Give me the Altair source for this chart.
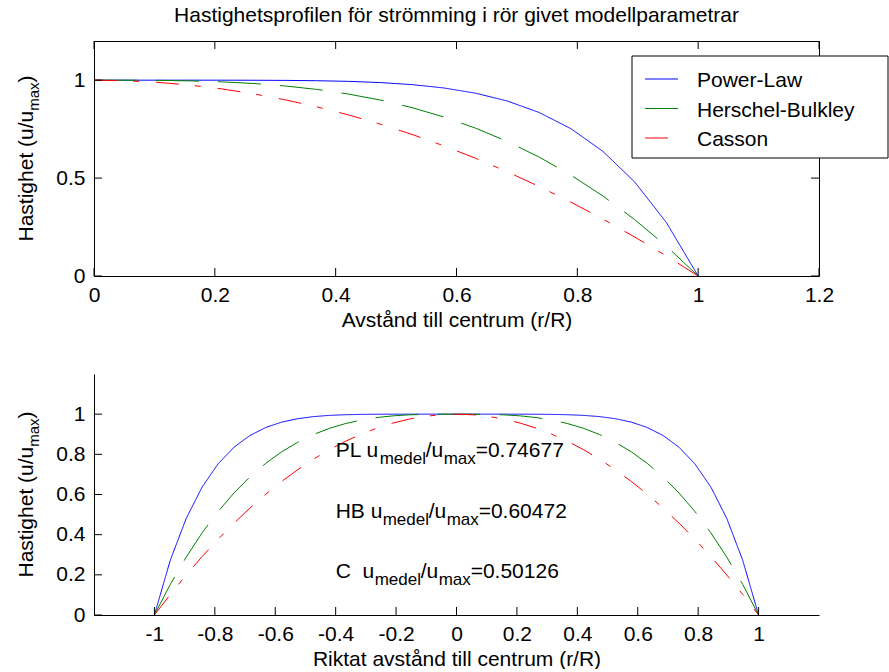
import altair as alt
import pandas as pd

# ---------------- data ----------------
r = [0.0, 0.0526, 0.1053, 0.1579, 0.2105, 0.2632, 0.3158, 0.3684, 0.4211, 0.4737,
     0.5263, 0.5789, 0.6316, 0.6842, 0.7368, 0.7895, 0.8421, 0.8947, 0.9474, 1.0]
u_pl = [1.0, 1.0, 1.0, 1.0, 0.9999, 0.9996, 0.9989, 0.9972, 0.9939, 0.9878,
        0.9773, 0.9603, 0.9335, 0.8934, 0.835, 0.752, 0.637, 0.481, 0.273, 0.0]
u_hb = [1.0, 0.9999, 0.999, 0.9965, 0.9915, 0.9832, 0.9706, 0.9529, 0.9291, 0.8984,
        0.8597, 0.8123, 0.7549, 0.6869, 0.6072, 0.5149, 0.409, 0.2884, 0.1525, 0.0]
u_c = [1.0, 0.9972, 0.9889, 0.9751, 0.9557, 0.9307, 0.9003, 0.8643, 0.8227, 0.7756,
       0.723, 0.6648, 0.6011, 0.5319, 0.4571, 0.3767, 0.2909, 0.1994, 0.1025, 0.0]
series = ["Power-Law", "Herschel-Bulkley", "Casson"]

top_xticks = [0, 0.2, 0.4, 0.6, 0.8, 1, 1.2]
top_yticks = [0, 0.5, 1]
bot_xticks = [-1, -0.8, -0.6, -0.4, -0.2, 0, 0.2, 0.4, 0.6, 0.8, 1]
bot_yticks = [0, 0.2, 0.4, 0.6, 0.8, 1]

ann_labels = ["PL", "HB", "C\u00a0 "]
ann_values = ["0.74677", "0.60472", "0.50126"]
ann_y = [0.8, 0.5, 0.2]
ann_x = -0.4

title_text = "Hastighetsprofilen för strömming i rör givet modellparametrar"
xtitle_top = "Avstånd till centrum (r/R)"
xtitle_bot = "Riktat avstånd till centrum (r/R)"

# ---------------- tables built from the arrays ----------------
profiles = [u_pl, u_hb, u_c]
rows_top, rows_bot = [], []
for s, u in zip(series, profiles):
    for i, (rv, uv) in enumerate(zip(r, u)):
        rows_top.append({"x": rv, "u": uv, "s": s, "i": i})
    xs_signed = [-v for v in reversed(r)] + list(r)
    us = list(reversed(u)) + list(u)
    for i, (xv, uv) in enumerate(zip(xs_signed, us)):
        rows_bot.append({"x": xv, "u": uv, "s": s, "i": i})
df_top = pd.DataFrame(rows_top)
df_bot = pd.DataFrame(rows_bot)

# ---------------- styles ----------------
COLORS = ["#0000ff", "#008000", "#ff0000"]
DASHES = [[1, 0], [43, 19], [23, 16, 6, 17]]
FONT = "Liberation Sans"
FS = 21
SUB = 15
TICK = 8
W, H1, H2 = 725, 235, 241
LBL = "'' + datum.value"

color_enc = alt.Color("s:N", scale=alt.Scale(domain=series, range=COLORS), legend=None)
dash_enc = alt.StrokeDash("s:N", scale=alt.Scale(domain=series, range=DASHES), legend=None)
rule = dict(color="black", strokeWidth=1)


def one(txt):
    return pd.DataFrame({"t": [txt]})


def ytitle_layers(start_y):
    pieces = [("Hastighet (u/u", 0, 0, FS), ("max", 6, -130.7, SUB), (")", 0, -159.0, FS)]
    out = []
    for txt, dxx, dyy, fs in pieces:
        out.append(alt.Chart(one(txt)).mark_text(
            angle=270, align="left", baseline="alphabetic", font=FONT, fontSize=fs, color="black"
        ).encode(x=alt.value(-61 + dxx), y=alt.value(start_y + dyy), text="t:N"))
    return out


def panel(df, xdom, xticks, yticks, xtitle, h, domain):
    xs = alt.Scale(domain=xdom, nice=False, zero=False)
    ys = alt.Scale(domain=[0, 1.2], nice=False, zero=False)
    ax = alt.Axis(values=xticks, labelExpr=LBL, title=xtitle, domain=domain, ticks=False,
                  grid=False, labelPadding=8, titlePadding=4, labelFlush=False)
    ay = alt.Axis(values=yticks, labelExpr=LBL, title=None, domain=domain, ticks=False,
                  grid=False, labelPadding=9, labelFlush=False)
    X = lambda f: alt.X(f, scale=xs, axis=ax)
    Y = lambda f: alt.Y(f, scale=ys, axis=ay)
    lines = alt.Chart(df).mark_line(strokeWidth=1).encode(
        x=X("x:Q"), y=Y("u:Q"), color=color_enc, strokeDash=dash_enc, order="i:Q")
    txd = pd.DataFrame({"x": xticks})
    tyd = pd.DataFrame({"u": yticks})
    ticks = [
        alt.Chart(txd).mark_rule(**rule).encode(x=X("x:Q"), y=alt.value(h), y2=alt.value(h - TICK)),
        alt.Chart(tyd).mark_rule(**rule).encode(y=Y("u:Q"), x=alt.value(0), x2=alt.value(TICK)),
    ]
    if not domain:
        ticks += [
            alt.Chart(txd).mark_rule(**rule).encode(x=X("x:Q"), y=alt.value(0), y2=alt.value(TICK)),
            alt.Chart(tyd).mark_rule(**rule).encode(y=Y("u:Q"), x=alt.value(W - TICK), x2=alt.value(W)),
        ]
    return lines, ticks, X, Y


# ---------------- top panel ----------------
top_lines, top_ticks, Xt, Yt = panel(df_top, [0, 1.2], top_xticks, top_yticks, xtitle_top, H1, False)

legend_layers = [alt.Chart(one("box")).mark_rect(fill="white", stroke="black", strokeWidth=1).encode(
    x=alt.value(538), x2=alt.value(794), y=alt.value(15), y2=alt.value(117))]
for k, s in enumerate(series):
    legend_layers.append(alt.Chart(one(s)).mark_rule(color=COLORS[k], strokeDash=DASHES[k], strokeWidth=1).encode(
        x=alt.value(551), x2=alt.value(584), y=alt.value(38 + 29.5 * k)))
    legend_layers.append(alt.Chart(one(s)).mark_text(
        align="left", baseline="alphabetic", font=FONT, fontSize=FS, color="black").encode(
        x=alt.value(603), y=alt.value(46 + 29.5 * k), text="t:N"))

top = alt.layer(top_lines, *top_ticks, *legend_layers, *ytitle_layers(200.5)).properties(
    width=W, height=H1,
    view=alt.ViewBackground(stroke="black", strokeWidth=1),
    title=alt.TitleParams(text=title_text, font=FONT, fontSize=FS, fontWeight="normal",
                          anchor="middle", frame="group", baseline="alphabetic",
                          offset=-2, color="black"),
)

# ---------------- bottom panel ----------------
bot_lines, bot_ticks, Xb, Yb = panel(df_bot, [-1.2, 1.2], bot_xticks, bot_yticks, xtitle_bot, H2, True)

ANN_DX = [[0, 44, 90, 108, 140], [0, 47, 93, 111, 143], [0, 39, 85, 103, 135]]
ann_layers = []
for i in range(3):
    pieces = [(ann_labels[i] + " u", FS, 3), ("medel", SUB + 2, 10), ("/u", FS, 3),
              ("max", SUB + 2, 10), ("=" + ann_values[i], FS, 3)]
    for j, (txt, fs, ddy) in enumerate(pieces):
        d = pd.DataFrame({"x": [ann_x], "u": [ann_y[i]], "t": [txt]})
        ann_layers.append(alt.Chart(d).mark_text(
            align="left", baseline="alphabetic", font=FONT, fontSize=fs, color="black",
            dx=ANN_DX[i][j], dy=ddy).encode(x=Xb("x:Q"), y=Yb("u:Q"), text="t:N"))

bottom = alt.layer(bot_lines, *bot_ticks, *ann_layers, *ytitle_layers(203.5)).properties(
    width=W, height=H2)

chart = alt.vconcat(top, bottom, spacing=98, bounds="flush").properties(
    padding={"left": 15, "top": 4, "right": 0, "bottom": 0}
).configure_view(strokeWidth=0).configure_axis(
    labelFont=FONT, labelFontSize=FS, titleFont=FONT, titleFontSize=FS, titleFontWeight="normal",
    labelColor="black", titleColor="black", domainColor="black", domainWidth=1
)

chart.save("out.html", embed_options={"renderer": "svg", "actions": False})
